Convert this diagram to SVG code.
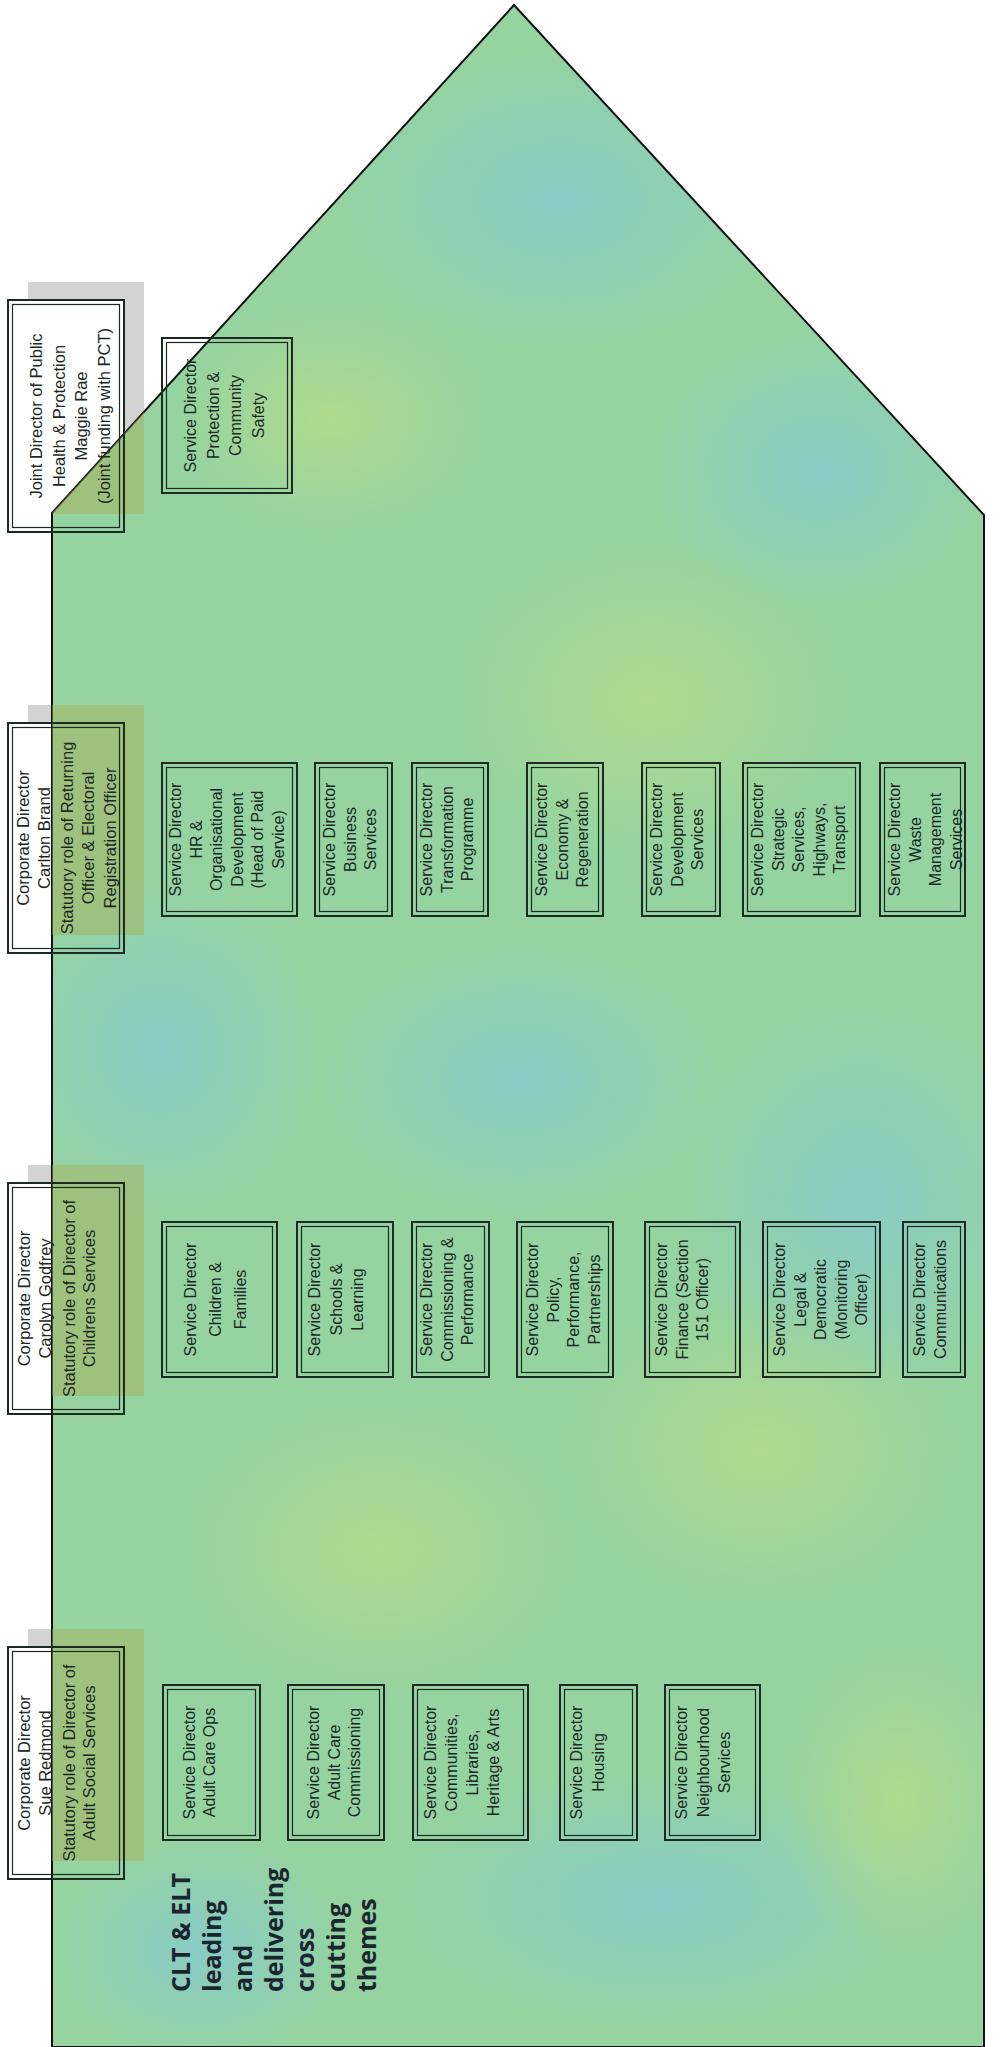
<svg xmlns="http://www.w3.org/2000/svg" width="1002" height="2047" viewBox="0 0 1002 2047">
<defs>
<style>
.ob{fill:none;stroke:#1d2a22;stroke-width:2}
.ib{fill:none;stroke:#1d2a22;stroke-width:1.2}
.cw{fill:#ffffff}
.sh{fill:#d3d3d3}
.so{fill:#a9ad55;opacity:0.45}
.t{font-family:"Liberation Sans",Arial,sans-serif;font-size:16px;fill:#1c2824}
.tc{font-family:"Liberation Sans",Arial,sans-serif;font-size:16.5px;fill:#1c2824}
.big{font-family:"Open Sans","Liberation Sans",sans-serif;font-weight:bold;font-size:25px;fill:#1b2530}
</style>
<radialGradient id="gb" cx="0.5" cy="0.5" r="0.5"><stop offset="0" stop-color="#84c9d2" stop-opacity="0.75"/><stop offset="1" stop-color="#84c9d2" stop-opacity="0"/></radialGradient>
<radialGradient id="gy" cx="0.5" cy="0.5" r="0.5"><stop offset="0" stop-color="#b9dc88" stop-opacity="0.75"/><stop offset="1" stop-color="#b9dc88" stop-opacity="0"/></radialGradient>
<clipPath id="hc"><path d="M52,513 L514,5 L984,515 L984,2047 L52,2047 Z"/></clipPath>
</defs>
<rect width="1002" height="2047" fill="#ffffff"/>

<!-- shadows on white -->
<g id="shadows">
<rect class="sh" x="28" y="282" width="116" height="232"/>
<rect class="sh" x="28" y="705" width="116" height="230"/>
<rect class="sh" x="28" y="1165" width="116" height="231"/>
<rect class="sh" x="28" y="1629" width="116" height="232"/>
<rect class="cw" x="8" y="300" width="116" height="232"/>
<rect class="cw" x="8" y="723" width="116" height="230"/>
<rect class="cw" x="8" y="1183" width="116" height="231"/>
<rect class="cw" x="8" y="1647" width="116" height="232"/>
</g>

<!-- house -->
<g id="house">
<path d="M52,513 L514,5 L984,515 L984,2047 L52,2047 Z" fill="#95d3a1"/>
<g clip-path="url(#hc)">
<ellipse cx="560" cy="200" rx="220" ry="150" fill="url(#gb)"/>
<ellipse cx="820" cy="470" rx="170" ry="140" fill="url(#gb)"/>
<ellipse cx="330" cy="420" rx="160" ry="120" fill="url(#gy)"/>
<ellipse cx="650" cy="700" rx="200" ry="160" fill="url(#gy)"/>
<ellipse cx="160" cy="1050" rx="160" ry="170" fill="url(#gb)"/>
<ellipse cx="520" cy="1080" rx="200" ry="140" fill="url(#gb)"/>
<ellipse cx="860" cy="1200" rx="180" ry="200" fill="url(#gb)"/>
<ellipse cx="380" cy="1550" rx="200" ry="150" fill="url(#gy)"/>
<ellipse cx="760" cy="1450" rx="200" ry="160" fill="url(#gy)"/>
<ellipse cx="660" cy="1900" rx="260" ry="130" fill="url(#gb)"/>
<ellipse cx="900" cy="1800" rx="120" ry="160" fill="url(#gy)"/>
<ellipse cx="200" cy="1950" rx="150" ry="110" fill="url(#gb)"/>
</g>
<path d="M52,513 L514,5 L984,515 L984,2047 L52,2047 Z" fill="none" stroke="#111" stroke-width="2"/>
</g>

<!-- shadow tint over house -->
<g id="shadow-tint" clip-path="url(#hc)">
<rect class="so" x="28" y="282" width="116" height="232"/>
<rect class="so" x="28" y="705" width="116" height="230"/>
<rect class="so" x="28" y="1165" width="116" height="231"/>
<rect class="so" x="28" y="1629" width="116" height="232"/>
</g>

<g id="connectors"></g>

<!-- corporate directors -->
<g id="joint">
<rect class="ob" x="8" y="300" width="116" height="232"/><rect class="ib" x="12.5" y="304.5" width="107" height="223"/>
<text class="tc" font-size="17.5" text-anchor="middle" transform="translate(42,416) rotate(-90)"><tspan x="0" y="0">Joint Director of Public</tspan><tspan x="0" dy="22.5">Health &amp; Protection</tspan><tspan x="0" dy="22.5">Maggie Rae</tspan><tspan x="0" dy="22.5">(Joint funding with PCT)</tspan></text>
</g>
<g id="carlton">
<rect class="ob" x="8" y="723" width="116" height="230"/><rect class="ib" x="12.5" y="727.5" width="107" height="221"/>
<text class="tc" text-anchor="middle" transform="translate(29,838) rotate(-90)"><tspan x="0" y="0">Corporate Director</tspan><tspan x="0" dy="20.5">Carlton Brand</tspan><tspan x="0" dy="23">Statutory role of Returning</tspan><tspan x="0" dy="21.5">Officer &amp; Electoral</tspan><tspan x="0" dy="21.5">Registration Officer</tspan></text>
</g>
<g id="carolyn">
<rect class="ob" x="8" y="1183" width="116" height="231"/><rect class="ib" x="12.5" y="1187.5" width="107" height="222"/>
<text class="tc" text-anchor="middle" transform="translate(30,1298.5) rotate(-90)"><tspan x="0" y="0">Corporate Director</tspan><tspan x="0" dy="20.5">Carolyn Godfrey</tspan><tspan x="0" dy="24">Statutory role of Director of</tspan><tspan x="0" dy="20.5">Childrens Services</tspan></text>
</g>
<g id="sue">
<rect class="ob" x="8" y="1647" width="116" height="232"/><rect class="ib" x="12.5" y="1651.5" width="107" height="223"/>
<text class="tc" text-anchor="middle" transform="translate(30,1763) rotate(-90)"><tspan x="0" y="0">Corporate Director</tspan><tspan x="0" dy="20.5">Sue Redmond</tspan><tspan x="0" dy="24">Statutory role of Director of</tspan><tspan x="0" dy="20.5">Adult Social Services</tspan></text>
</g>

<!-- service directors: joint row -->
<g id="sd-protection">
<rect class="ob" x="162" y="338" width="130" height="155"/><rect class="ib" x="166.5" y="342.5" width="121" height="146"/>
<text class="t" font-size="17" text-anchor="middle" transform="translate(196,415.5) rotate(-90)"><tspan x="0" y="0">Service Director</tspan><tspan x="0" dy="22.7">Protection &amp;</tspan><tspan x="0" dy="22.7">Community</tspan><tspan x="0" dy="22.7">Safety</tspan></text>
</g>

<!-- carlton row -->
<g id="sd-hr">
<rect class="ob" x="162" y="763" width="135" height="153"/><rect class="ib" x="166.5" y="767.5" width="126" height="144"/>
<text class="t" text-anchor="middle" transform="translate(181,839.5) rotate(-90)"><tspan x="0" y="0">Service Director</tspan><tspan x="0" dy="20.5">HR &amp;</tspan><tspan x="0" dy="20.5">Organisational</tspan><tspan x="0" dy="20.5">Development</tspan><tspan x="0" dy="20.5">(Head of Paid</tspan><tspan x="0" dy="20.5">Service)</tspan></text>
</g>
<g id="sd-business">
<rect class="ob" x="315" y="763" width="77" height="153"/><rect class="ib" x="319.5" y="767.5" width="68" height="144"/>
<text class="t" text-anchor="middle" transform="translate(335,839.5) rotate(-90)"><tspan x="0" y="0">Service Director</tspan><tspan x="0" dy="20.5">Business</tspan><tspan x="0" dy="20.5">Services</tspan></text>
</g>
<g id="sd-transformation">
<rect class="ob" x="412" y="763" width="76" height="153"/><rect class="ib" x="416.5" y="767.5" width="67" height="144"/>
<text class="t" text-anchor="middle" transform="translate(432,839.5) rotate(-90)"><tspan x="0" y="0">Service Director</tspan><tspan x="0" dy="20.5">Transformation</tspan><tspan x="0" dy="20.5">Programme</tspan></text>
</g>
<g id="sd-economy">
<rect class="ob" x="527" y="763" width="76" height="153"/><rect class="ib" x="531.5" y="767.5" width="67" height="144"/>
<text class="t" text-anchor="middle" transform="translate(547,839.5) rotate(-90)"><tspan x="0" y="0">Service Director</tspan><tspan x="0" dy="20.5">Economy &amp;</tspan><tspan x="0" dy="20.5">Regeneration</tspan></text>
</g>
<g id="sd-development">
<rect class="ob" x="642" y="763" width="78" height="153"/><rect class="ib" x="646.5" y="767.5" width="69" height="144"/>
<text class="t" text-anchor="middle" transform="translate(662,839.5) rotate(-90)"><tspan x="0" y="0">Service Director</tspan><tspan x="0" dy="20.5">Development</tspan><tspan x="0" dy="20.5">Services</tspan></text>
</g>
<g id="sd-strategic">
<rect class="ob" x="743" y="763" width="117" height="153"/><rect class="ib" x="747.5" y="767.5" width="108" height="144"/>
<text class="t" text-anchor="middle" transform="translate(763,839.5) rotate(-90)"><tspan x="0" y="0">Service Director</tspan><tspan x="0" dy="20.5">Strategic</tspan><tspan x="0" dy="20.5">Services,</tspan><tspan x="0" dy="20.5">Highways,</tspan><tspan x="0" dy="20.5">Transport</tspan></text>
</g>
<g id="sd-waste">
<rect class="ob" x="880" y="763" width="85" height="153"/><rect class="ib" x="884.5" y="767.5" width="76" height="144"/>
<text class="t" text-anchor="middle" transform="translate(900,839.5) rotate(-90)"><tspan x="0" y="0">Service Director</tspan><tspan x="0" dy="20.5">Waste</tspan><tspan x="0" dy="20.5">Management</tspan><tspan x="0" dy="20.5">Services</tspan></text>
</g>

<!-- carolyn row -->
<g id="sd-children">
<rect class="ob" x="162" y="1222" width="115" height="155"/><rect class="ib" x="166.5" y="1226.5" width="106" height="146"/>
<text class="t" font-size="18" text-anchor="middle" transform="translate(196,1299.5) rotate(-90)"><tspan x="0" y="0">Service Director</tspan><tspan x="0" dy="25">Children &amp;</tspan><tspan x="0" dy="25">Families</tspan></text>
</g>
<g id="sd-schools">
<rect class="ob" x="297" y="1222" width="96" height="155"/><rect class="ib" x="301.5" y="1226.5" width="87" height="146"/>
<text class="t" font-size="17" text-anchor="middle" transform="translate(320,1299.5) rotate(-90)"><tspan x="0" y="0">Service Director</tspan><tspan x="0" dy="21.5">Schools &amp;</tspan><tspan x="0" dy="21.5">Learning</tspan></text>
</g>
<g id="sd-commissioning">
<rect class="ob" x="412" y="1222" width="77" height="155"/><rect class="ib" x="416.5" y="1226.5" width="68" height="146"/>
<text class="t" text-anchor="middle" transform="translate(432,1299.5) rotate(-90)"><tspan x="0" y="0">Service Director</tspan><tspan x="0" dy="20.5">Commissioning &amp;</tspan><tspan x="0" dy="20.5">Performance</tspan></text>
</g>
<g id="sd-policy">
<rect class="ob" x="517" y="1222" width="96" height="155"/><rect class="ib" x="521.5" y="1226.5" width="87" height="146"/>
<text class="t" text-anchor="middle" transform="translate(538,1299.5) rotate(-90)"><tspan x="0" y="0">Service Director</tspan><tspan x="0" dy="20.5">Policy,</tspan><tspan x="0" dy="20.5">Performance,</tspan><tspan x="0" dy="20.5">Partnerships</tspan></text>
</g>
<g id="sd-finance">
<rect class="ob" x="645" y="1222" width="95" height="155"/><rect class="ib" x="649.5" y="1226.5" width="86" height="146"/>
<text class="t" text-anchor="middle" transform="translate(667,1299.5) rotate(-90)"><tspan x="0" y="0">Service Director</tspan><tspan x="0" dy="20.5">Finance (Section</tspan><tspan x="0" dy="20.5">151 Officer)</tspan></text>
</g>
<g id="sd-legal">
<rect class="ob" x="763" y="1222" width="117" height="155"/><rect class="ib" x="767.5" y="1226.5" width="108" height="146"/>
<text class="t" text-anchor="middle" transform="translate(785,1299.5) rotate(-90)"><tspan x="0" y="0">Service Director</tspan><tspan x="0" dy="20.5">Legal &amp;</tspan><tspan x="0" dy="20.5">Democratic</tspan><tspan x="0" dy="20.5">(Monitoring</tspan><tspan x="0" dy="20.5">Officer)</tspan></text>
</g>
<g id="sd-communications">
<rect class="ob" x="903" y="1222" width="62" height="155"/><rect class="ib" x="907.5" y="1226.5" width="53" height="146"/>
<text class="t" text-anchor="middle" transform="translate(925,1299.5) rotate(-90)"><tspan x="0" y="0">Service Director</tspan><tspan x="0" dy="20.5">Communications</tspan></text>
</g>

<!-- sue row -->
<g id="sd-adultops">
<rect class="ob" x="163" y="1685" width="97" height="155"/><rect class="ib" x="167.5" y="1689.5" width="88" height="146"/>
<text class="t" text-anchor="middle" transform="translate(195,1762.5) rotate(-90)"><tspan x="0" y="0">Service Director</tspan><tspan x="0" dy="19.5">Adult Care Ops</tspan></text>
</g>
<g id="sd-adultcomm">
<rect class="ob" x="288" y="1685" width="96" height="155"/><rect class="ib" x="292.5" y="1689.5" width="87" height="146"/>
<text class="t" text-anchor="middle" transform="translate(319,1762.5) rotate(-90)"><tspan x="0" y="0">Service Director</tspan><tspan x="0" dy="20.5">Adult Care</tspan><tspan x="0" dy="20.5">Commissioning</tspan></text>
</g>
<g id="sd-communities">
<rect class="ob" x="413" y="1685" width="115" height="155"/><rect class="ib" x="417.5" y="1689.5" width="106" height="146"/>
<text class="t" text-anchor="middle" transform="translate(436,1762.5) rotate(-90)"><tspan x="0" y="0">Service Director</tspan><tspan x="0" dy="21">Communities,</tspan><tspan x="0" dy="21">Libraries,</tspan><tspan x="0" dy="21">Heritage &amp; Arts</tspan></text>
</g>
<g id="sd-housing">
<rect class="ob" x="560" y="1685" width="77" height="155"/><rect class="ib" x="564.5" y="1689.5" width="68" height="146"/>
<text class="t" text-anchor="middle" transform="translate(582,1762.5) rotate(-90)"><tspan x="0" y="0">Service Director</tspan><tspan x="0" dy="21.5">Housing</tspan></text>
</g>
<g id="sd-neighbourhood">
<rect class="ob" x="665" y="1685" width="95" height="155"/><rect class="ib" x="669.5" y="1689.5" width="86" height="146"/>
<text class="t" text-anchor="middle" transform="translate(687,1762.5) rotate(-90)"><tspan x="0" y="0">Service Director</tspan><tspan x="0" dy="21.5">Neighbourhood</tspan><tspan x="0" dy="21.5">Services</tspan></text>
</g>

<!-- caption -->
<g id="cross-cutting">
<text class="big" transform="translate(190,1992) rotate(-90)"><tspan x="0" y="0">CLT &amp; ELT</tspan><tspan x="0" dy="31">leading</tspan><tspan x="0" dy="31">and</tspan><tspan x="0" dy="31">delivering</tspan><tspan x="0" dy="31">cross</tspan><tspan x="0" dy="31">cutting</tspan><tspan x="0" dy="31">themes</tspan></text>
</g>
</svg>
